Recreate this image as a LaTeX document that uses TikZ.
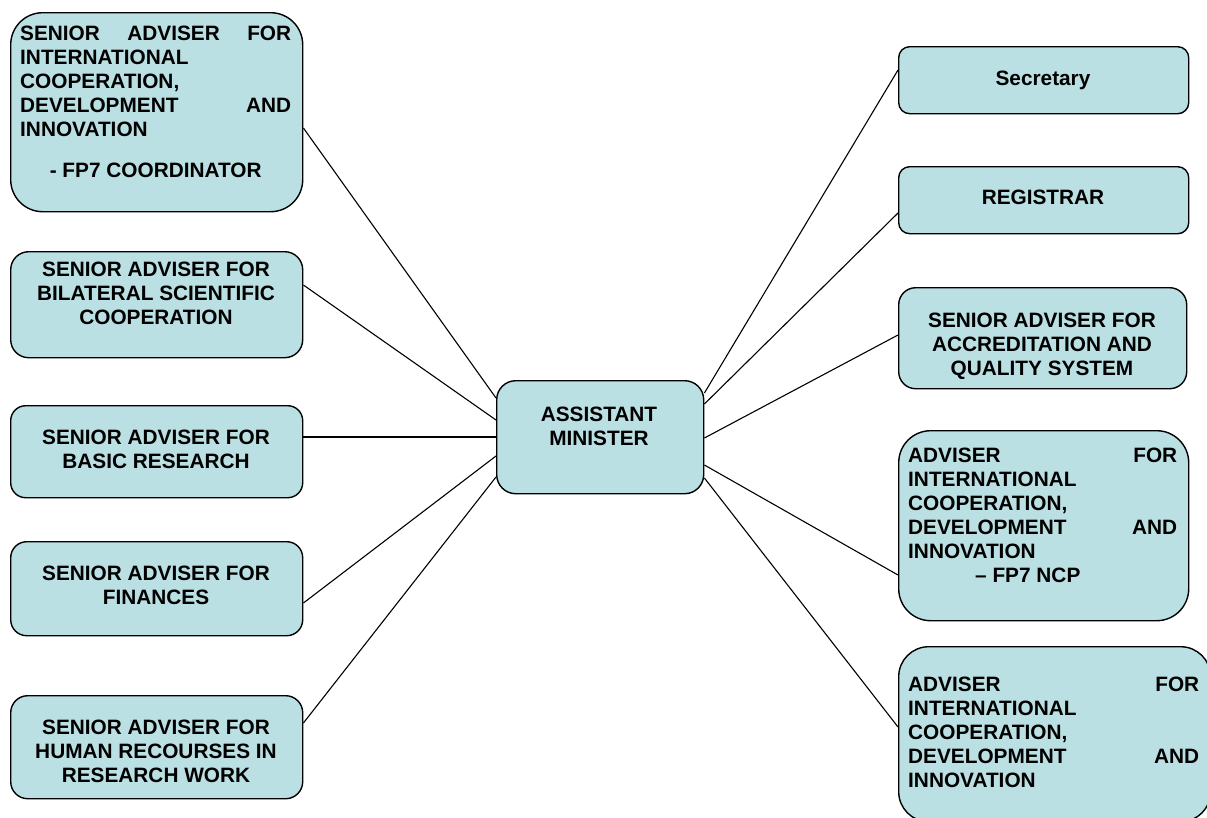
\documentclass[tikz,border=0pt]{standalone}
\usepackage{fontspec}
\setmainfont{Liberation Sans}
\definecolor{boxfill}{RGB}{187,224,227}
\begin{document}
\begin{tikzpicture}[x=1pt,y=-1pt,
 box/.style={draw=black, line width=1.4pt, fill=boxfill, inner sep=0pt, anchor=north west},
 txt/.style={inner sep=0pt, font=\bfseries\fontsize{20.8}{24}\selectfont},
 ctxt/.style={txt, align=center, anchor=north},
 jtxt/.style={txt, align=justify, anchor=north west},
 link/.style={draw=black, line width=1.1pt}]
\useasboundingbox (0,0) rectangle (1207,817);

% boxes
\node[box, minimum width=292, minimum height=199, rounded corners=32] (L1) at (10,12) {};
\node[box, minimum width=292, minimum height=106, rounded corners=18] (L2) at (10,251) {};
\node[box, minimum width=292, minimum height=92, rounded corners=15] (L3) at (10,405) {};
\node[box, minimum width=292, minimum height=94, rounded corners=16] (L4) at (10,541) {};
\node[box, minimum width=292, minimum height=103, rounded corners=17] (L5) at (10,695) {};
\node[box, minimum width=207, minimum height=113, rounded corners=19] (C) at (496,380) {};
\node[box, minimum width=290, minimum height=67, rounded corners=11] (R1) at (898,46) {};
\node[box, minimum width=290, minimum height=67, rounded corners=11] (R2) at (898,166) {};
\node[box, minimum width=288, minimum height=101, rounded corners=17] (R3) at (898,287) {};
\node[box, minimum width=290, minimum height=190, rounded corners=32] (R4) at (898,430) {};
\node[box, minimum width=312, minimum height=175, rounded corners=30] (R5) at (898,646) {};

% texts
\node[jtxt, text width=271] (L1t) at (20,26) {SENIOR ADVISER FOR\linebreak INTERNATIONAL\newline COOPERATION,\newline DEVELOPMENT AND\linebreak INNOVATION\par\vspace{17pt}{\centering - FP7 COORDINATOR\par}};
\node[ctxt] (L2t) at (156,262) {SENIOR ADVISER FOR\\BILATERAL SCIENTIFIC\\COOPERATION};
\node[ctxt] (L3t) at (156,430) {SENIOR ADVISER FOR\\BASIC RESEARCH};
\node[ctxt] (L4t) at (156,566) {SENIOR ADVISER FOR\\FINANCES};
\node[ctxt] (L5t) at (156,720) {SENIOR ADVISER FOR\\HUMAN RECOURSES IN\\RESEARCH WORK};
\node[ctxt] (Ct) at (599,407) {ASSISTANT\\MINISTER};
\node[ctxt] (R1t) at (1043,71) {Secretary};
\node[ctxt] (R2t) at (1043,190) {REGISTRAR};
\node[ctxt] (R3t) at (1042,313) {SENIOR ADVISER FOR\\ACCREDITATION AND\\QUALITY SYSTEM};
\node[jtxt, text width=269] (R4t) at (908,448) {ADVISER FOR\linebreak INTERNATIONAL\newline COOPERATION,\newline DEVELOPMENT AND\linebreak INNOVATION\newline\hspace*{67pt}– FP7 NCP};
\node[jtxt, text width=291] (R5t) at (908,677) {ADVISER FOR\linebreak INTERNATIONAL\newline COOPERATION,\newline DEVELOPMENT AND\linebreak INNOVATION};

% connectors
\draw[link] ([yshift=-116]L1.north east) -- ([yshift=-18]C.north west);
\draw[link] ([yshift=-34]L2.north east) -- ([yshift=-40]C.north west);
\draw[link] ([yshift=-32]L3.north east) -- ([yshift=-57]C.north west);
\draw[link] ([yshift=-62]L4.north east) -- ([yshift=-76]C.north west);
\draw[link] ([yshift=-28]L5.north east) -- ([yshift=-97]C.north west);
\draw[link] ([yshift=-24]R1.north west) -- ([yshift=-13]C.north east);
\draw[link] ([yshift=-47]R2.north west) -- ([yshift=-24]C.north east);
\draw[link] ([yshift=-48]R3.north west) -- ([yshift=-58]C.north east);
\draw[link] ([yshift=-145]R4.north west) -- ([yshift=-85]C.north east);
\draw[link] ([yshift=-81]R5.north west) -- ([yshift=-98]C.north east);
\end{tikzpicture}
\end{document}
